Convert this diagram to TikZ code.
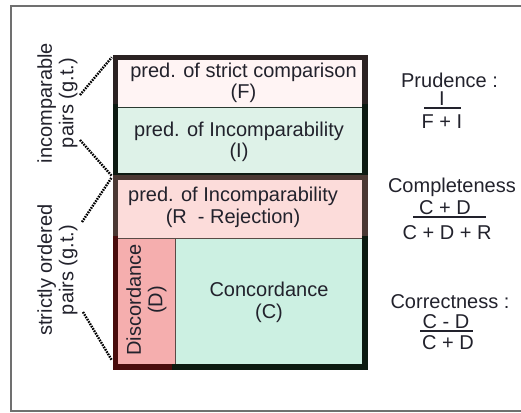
\documentclass[tikz,border=0pt]{standalone}
\usepackage{fontspec}
\setmainfont{Liberation Sans}
\usepackage{tikz}
\definecolor{outergray}{HTML}{707070}
\definecolor{textgray}{HTML}{22222C}
\definecolor{fpink}{HTML}{FFF4F4}
\definecolor{igreen}{HTML}{DEF2E8}
\definecolor{rpink}{HTML}{FCDCDA}
\definecolor{dred}{HTML}{F5AEAE}
\definecolor{cgreen}{HTML}{CCF0E2}
\definecolor{fborder}{HTML}{2B2222}
\definecolor{iborder}{HTML}{0D1A12}
\definecolor{rborder}{HTML}{4B3833}
\definecolor{dborder}{HTML}{4A0C0C}
\definecolor{cborder}{HTML}{0C1A10}
\definecolor{fidiv}{HTML}{2A3A30}
\definecolor{rdiv}{HTML}{5A4A45}
\tikzstyle{cell}=[rectangle, inner sep=0pt, draw=none]
\tikzstyle{txt}=[align=center, text=textgray, font=\fontsize{20}{21.5}\selectfont, inner sep=0pt]
\tikzstyle{blockframe}=[line width=5.5pt, line cap=rect, line join=miter]
\tikzstyle{divider}=[line width=1pt]
\tikzstyle{gt}=[line width=2.4pt, dash pattern=on 1.6pt off 1.1pt]
\tikzstyle{fracbar}=[line width=1.5pt, draw=textgray]

\begin{document}
\begin{tikzpicture}[x=1pt, y=-1pt]
            \clip (0,0) rectangle (521,412);
            \draw[outergray, line width=1.5pt] (530,6) -- (11,6) -- (11,411) -- (530,411);
            % cells
            \node[cell, fill=fpink, minimum width=249.2pt, minimum height=49.5pt] (F) at (240.1,82.25) {};
            \node[cell, fill=igreen, minimum width=249.2pt, minimum height=68.75pt] (I) at (240.1,141.375) {};
            \node[cell, fill=rpink, minimum width=249.2pt, minimum height=61pt] (R) at (240.1,208) {};
            \node[cell, fill=dred, minimum width=59.5pt, minimum height=128.5pt] (D) at (145.25,302.75) {};
            \node[cell, fill=cgreen, minimum width=189.7pt, minimum height=128.5pt] (C) at (269.85,302.75) {};
            \draw[divider, fidiv] (F.south west) -- (F.south east);
            \draw[divider, rdiv] (R.south west) -- (R.south east);
            \draw[divider, rdiv] (D.north east) -- (D.south east);
            % frames
            \draw[blockframe, fborder] (F.south west) |- (F.north east) -- (F.south east);
            \draw[blockframe, iborder] (I.north west) |- (I.south east) -- (I.north east);
            \draw[blockframe, rborder] (R.south west) |- (R.north east) -- (R.south east);
            \draw[blockframe, dborder] (D.north west) |- (D.south east);
            \draw[blockframe, cborder] (C.south west) -| (C.north east);
            % texts
            \node[txt] (Ftxt) at (243.5,83) {pred. of strict comparison\\(F)};
            \node[txt] (Itxt) at (239,142) {pred. of Incomparability\\(I)};
            \node[txt] (Rtxt) at (233,207.5) {pred. of Incomparability\\(R\ \ - Rejection)};
            \node[txt] (Ctxt) at (269,302.5) {Concordance\\(C)};
            \node[txt, rotate=90] (Dtxt) at (146.5,300) {Discordance\\(D)};
            % ground truth labels
            \node[txt, rotate=90] (inc) at (57.5,103) {incomparable\\pairs (g.t.)};
            \node[txt, rotate=90] (ord) at (57.5,270) {strictly ordered\\pairs (g.t.)};
            \coordinate (incA) at (80,95);
            \coordinate (incB) at (80,140);
            \coordinate (ordA) at (82,222);
            \coordinate (ordB) at (83,312);
            \draw[gt] (incA) -- ([xshift=-3.5pt]F.north west);
            \draw[gt] (incB) -- ([xshift=-3.5pt]I.south west);
            \draw[gt] (ordA) -- ([xshift=-3.5pt]R.north west);
            \draw[gt] (ordB) -- ([xshift=-3.5pt,yshift=7pt]D.south west);
            % measures
            \node[txt, anchor=base] (prud) at (449.5,87) {Prudence :};
            \node[txt, anchor=base] (prudnum) at (442,105) {I};
            \node[txt, anchor=base] (prudden) at (442,128) {F + I};
            \draw[fracbar] (424,108) -- (461,108);
            \node[txt, anchor=base] (compl) at (457.5,192) {Completeness :};
            \node[txt, anchor=base] (complnum) at (445,214) {C + D};
            \node[txt, anchor=base] (complden) at (447,239) {C + D + R};
            \draw[fracbar] (413,217) -- (486,217);
            \node[txt, anchor=base] (corr) at (450,308) {Correctness :};
            \node[txt, anchor=base] (corrnum) at (446,328) {C - D};
            \node[txt, anchor=base] (corrden) at (448,349) {C + D};
            \draw[fracbar] (420,331) -- (473,331);
        \end{tikzpicture}
\end{document}
